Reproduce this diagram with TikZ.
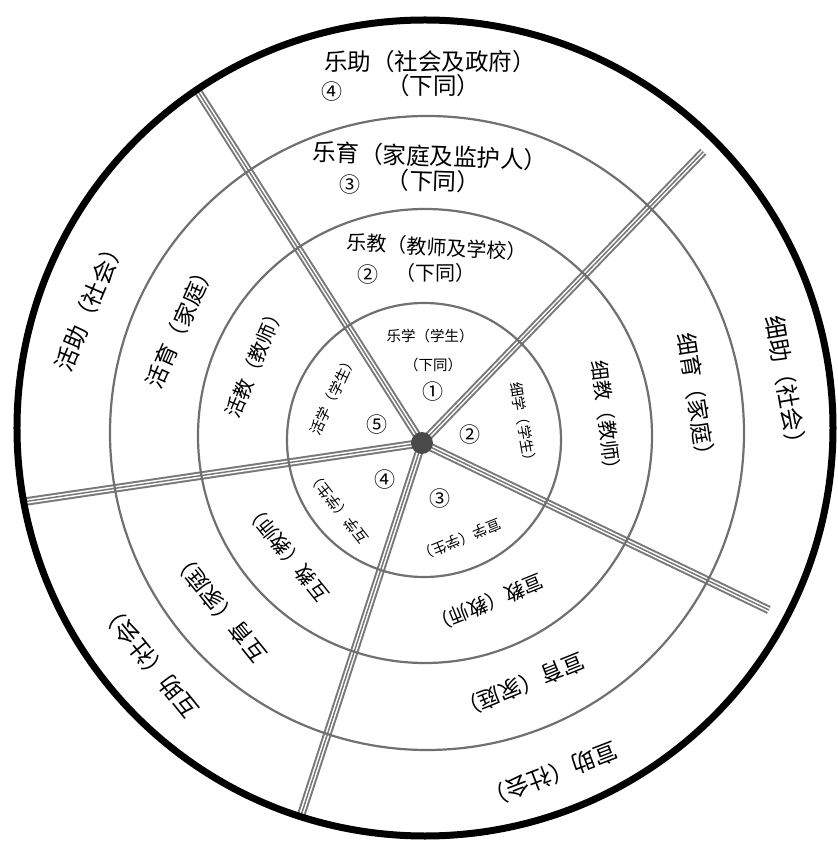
\documentclass[tikz,border=0pt]{standalone}
\usepackage{fontspec}
\newfontfamily\cjk{Noto Sans CJK SC}
\usepackage{tikz}
\usetikzlibrary{positioning}
\definecolor{ringgray}{HTML}{707070}
\definecolor{spokegray}{HTML}{787878}
\definecolor{hubgray}{HTML}{4A4A4A}
\tikzset{%
	ring/.style   = {draw=ringgray, line width=2.2pt},
	rim/.style    = {draw=black, line width=7pt},
	spoke/.style  = {draw=spokegray, line width=1.5pt, preaction={draw=spokegray, line width=8.5pt}, preaction={draw=white, line width=4.5pt}},
	lbla/.style   = {inner sep=0pt, font=\cjk\fontsize{14.5}{15}\selectfont},
	lblb/.style   = {inner sep=0pt, font=\cjk\fontsize{20}{21}\selectfont},
	lblc/.style   = {inner sep=0pt, font=\cjk\fontsize{22.5}{23}\selectfont},
	lbld/.style   = {inner sep=0pt, font=\cjk\fontsize{23.5}{24}\selectfont},
	numlbl/.style = {inner sep=0pt, font=\cjk\fontsize{21}{21}\selectfont},
}
\begin{document}
\begin{tikzpicture}[x=1pt,y=1pt]
	\useasboundingbox (-422,-402) rectangle (415,443);
	\coordinate (hub) at (0,0);
	\coordinate (s1) at (122.5:420);
	\coordinate (s2) at (46:405);
	\coordinate (s3) at (-25.7:385);
	\coordinate (s4) at (252:393);
	\coordinate (s5) at (188.4:403);
	\foreach \s in {s1,s2,s3,s4,s5} \draw[spoke] (hub) -- (\s);
	\draw[ring] (2,3) circle (137pt) (3,7) circle (227pt) (5,10) circle (317pt);
	\draw[rim] (3,15) circle (408pt);
	\fill[hubgray] (hub) circle (11pt);
	% top sector
	\node[lbld] (le4) at (8,381) {乐助（社会及政府）};
	\node[lbld] (le4b) at (11,357) {（下同）};
	\node[numlbl] (le4n) at (-90,351) {④};
	\node[lbld,rotate=-2] (le3) at (8,287) {乐育（家庭及监护人）};
	\node[lbld,rotate=-2] (le3b) at (11,262) {（下同）};
	\node[numlbl] (le3n) at (-72,258) {③};
	\node[lblb,rotate=-3] (le2) at (15,196) {乐教（教师及学校）};
	\node[lblb] (le2b) at (13,170) {（下同）};
	\node[numlbl] (le2n) at (-54,168) {②};
	\node[lbla] (le1) at (8,107) {乐学（学生）};
	\node[lbla] (le1b) at (11,78) {（下同）};
	\node[numlbl] (m1) at (11,51) {①};
	% right sector
	\node[lbla,rotate=-80] (xi1) at (10:103) {细学（学生）};
	\node[lblb,rotate=-83] (xi2) at (7:186) {细教（教师）};
	\node[lblc,rotate=-81] (xi3) at (9:278) {细育（家庭）};
	\node[lbld,rotate=-80] (xi4) at (9:369) {细助（社会）};
	\node[numlbl] (m2) at (9.5:49) {②};
	% lower right sector
	\node[lbla,rotate=-158] (xu1) at (-68.6:104) {宣学（学生）};
	\node[lblb,rotate=-158] (xu2) at (-67.9:173) {宣教（教师）};
	\node[lblc,rotate=-158] (xu3) at (-67.8:262) {宣育（家庭）};
	\node[lbld,rotate=-159] (xu4) at (-68.8:356) {宣助（社会）};
	\node[numlbl] (m3) at (-72:58) {③};
	% lower left sector
	\node[lbla,rotate=128] (hu1) at (217.7:106) {互学（学生）};
	\node[lblb,rotate=129] (hu2) at (219:174) {互教（教师）};
	\node[lblc,rotate=129] (hu3) at (219:261) {互育（家庭）};
	\node[lbld,rotate=129] (hu4) at (218.6:349) {互助（社会）};
	\node[numlbl] (m4) at (225:52) {④};
	% left sector
	\node[lbla,rotate=65] (huo1) at (151.7:101) {活学（学生）};
	\node[lblb,rotate=67] (huo2) at (154:186) {活教（教师）};
	\node[lblc,rotate=66] (huo3) at (154:269) {活育（家庭）};
	\node[lbld,rotate=67] (huo4) at (157.4:360) {活助（社会）};
	\node[numlbl] (m5) at (158:48.5) {⑤};
\end{tikzpicture}
\end{document}
